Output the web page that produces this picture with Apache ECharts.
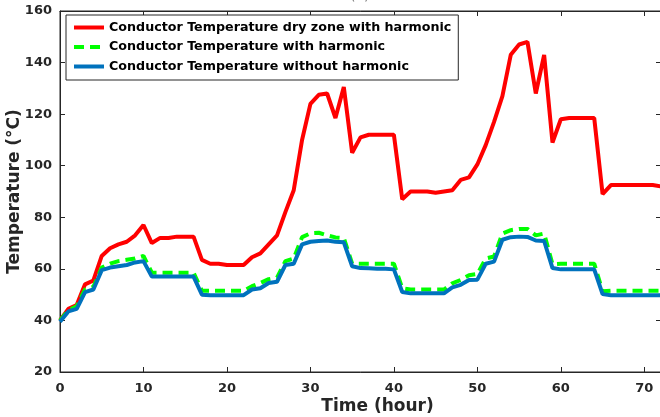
<!DOCTYPE html>
<html>
<head>
<meta charset="utf-8">
<script src="https://cdn.jsdelivr.net/npm/echarts@6/dist/echarts.min.js"></script>
<style>
html,body{margin:0;padding:0;background:#fff;}
#chart{width:660px;height:417px;}
</style>
</head>
<body>
<div id="chart"></div>
<script>
// Time (hour)
const hours = [0,1,2,3,4,5,6,7,8,9,10,11,12,13,14,15,16,17,18,19,20,21,22,23,24,25,26,27,28,29,30,31,32,33,34,35,36,37,38,39,40,41,42,43,44,45,46,47,48,49,50,51,52,53,54,55,56,57,58,59,60,61,62,63,64,65,66,67,68,69,70,71,72];
const xTicks = [0,10,20,30,40,50,60,70];
const yTicks = [20,40,60,80,100,120,140,160];
const seriesNames = [
  'Conductor Temperature dry zone with harmonic',
  'Conductor Temperature with harmonic',
  'Conductor Temperature without harmonic'
];
const dryZoneWithHarmonic = [40,44.5,46,54,55.5,65,68,69.5,70.5,73,77,70,72,72,72.5,72.5,72.5,63.5,62,62,61.5,61.5,61.5,64.5,66,69.5,73,82,90.5,110,124,127.5,128,118.5,130.5,105,111,112,112,112,112,87,90,90,90,89.5,90,90.5,94.5,95.5,100.5,108,117,127,143,147,148,128,143,109,118,118.5,118.5,118.5,118.5,89,92.5,92.5,92.5,92.5,92.5,92.5,92];
const withHarmonic = [40,44,45.5,52,53,60.5,62,63,63.5,64,65,58.5,58.5,58.5,58.5,58.5,58.5,51.5,51.5,51.5,51.5,51.5,51.5,53.3,54.5,56,56.6,63,64,72.3,73.8,74,73,72.2,72,62,62,62,62,62,62,52.5,52,52,52,52,52,54.4,55.7,57.5,58,64,64.8,73.7,75,75.5,75.5,73,73.7,61.8,62,62,62,62,62,51.3,51.5,51.5,51.5,51.5,51.5,51.5,51.5];
const withoutHarmonic = [39.5,43.5,44.5,51,52,59.5,60.5,61,61.5,62.5,63,57,57,57,57,57,57,50,49.8,49.8,49.8,49.8,49.8,52,52.5,54.5,55,61.5,62,69.5,70.5,70.8,71,70.5,70.3,61,60.3,60.2,60,60,59.8,51,50.5,50.5,50.5,50.5,50.5,52.8,53.8,55.7,55.8,62,62.8,71.3,72.3,72.5,72.4,71,70.8,60.3,59.8,59.8,59.8,59.8,59.8,50.2,49.8,49.8,49.8,49.8,49.8,49.8,49.8];
const seriesColors = ['#ff0000', '#00ff00', '#0072bd'];

const FONT = 'DejaVu Sans';
const AX = '#262626';
const pair = arr => hours.map((h, i) => [h, arr[i]]);

const chart = echarts.init(document.getElementById('chart'), null, {renderer: 'canvas'});

const xBase = {
  type: 'value', min: 0, max: 72, interval: 10,
  axisLine: {show: true, onZero: false, lineStyle: {color: AX, width: 1}},
  axisTick: {show: true, inside: true, length: 5, lineStyle: {color: AX}},
  splitLine: {show: false}
};
const yBase = {
  type: 'value', min: 20, max: 160, interval: 20,
  axisLine: {show: true, onZero: false, lineStyle: {color: AX, width: 1}},
  axisTick: {show: true, inside: true, length: 5, lineStyle: {color: AX}},
  splitLine: {show: false}
};

chart.setOption({
  animation: false,
  backgroundColor: '#fff',
  title: {
    text: '(a)', left: 345, top: -16,
    textStyle: {fontFamily: FONT, fontWeight: 'normal', fontSize: 14, color: '#777'}
  },
  grid: {left: 60, right: -1, top: 11, bottom: 45, containLabel: false, outerBoundsMode: 'none',
    show: true, borderColor: AX, borderWidth: 1, backgroundColor: 'transparent'},
  legend: {
    orient: 'vertical', left: 66, top: 15,
    padding: [6, 7, 7, 6],
    itemWidth: 30, itemHeight: 14, itemGap: 6.5,
    borderColor: AX, borderWidth: 1, backgroundColor: '#fff',
    itemStyle: {opacity: 0},
    lineStyle: {width: 4},
    textStyle: {fontFamily: FONT, fontWeight: 'bold', fontSize: 12.7, color: '#000'},
    data: seriesNames
  },
  xAxis: [
    Object.assign({}, xBase, {
      position: 'bottom',
      name: 'Time (hour)', nameLocation: 'middle', nameGap: 26, nameMoveOverlap: false,
      nameTextStyle: {fontFamily: FONT, fontWeight: 'bold', fontSize: 17, color: AX, padding: [0, 0, 0, 34]},
      axisLabel: {show: true, margin: 10, fontFamily: FONT, fontWeight: 'bold', fontSize: 13, color: AX, showMaxLabel: false,
        formatter: v => (xTicks.indexOf(v) >= 0 ? String(v) : '')}
    }),
    Object.assign({}, xBase, {position: 'top', axisLabel: {show: false}})
  ],
  yAxis: [
    Object.assign({}, yBase, {
      position: 'left',
      name: 'Temperature (°C)', nameLocation: 'middle', nameGap: 37, nameMoveOverlap: false,
      nameTextStyle: {fontFamily: FONT, fontWeight: 'bold', fontSize: 17, color: AX},
      axisLabel: {show: true, margin: 8, fontFamily: FONT, fontWeight: 'bold', fontSize: 13, color: AX,
        formatter: v => (yTicks.indexOf(v) >= 0 ? String(v) : '')}
    }),
    Object.assign({}, yBase, {position: 'right', axisLabel: {show: false}})
  ],
  series: [
    {name: seriesNames[0], type: 'line', data: pair(dryZoneWithHarmonic), symbol: 'none',
      color: seriesColors[0], lineStyle: {color: seriesColors[0], width: 4}},
    {name: seriesNames[1], type: 'line', data: pair(withHarmonic), symbol: 'none',
      color: seriesColors[1], lineStyle: {color: seriesColors[1], width: 4, type: [10, 6]}},
    {name: seriesNames[2], type: 'line', data: pair(withoutHarmonic), symbol: 'none',
      color: seriesColors[2], lineStyle: {color: seriesColors[2], width: 4}}
  ]
});
</script>
</body>
</html>
